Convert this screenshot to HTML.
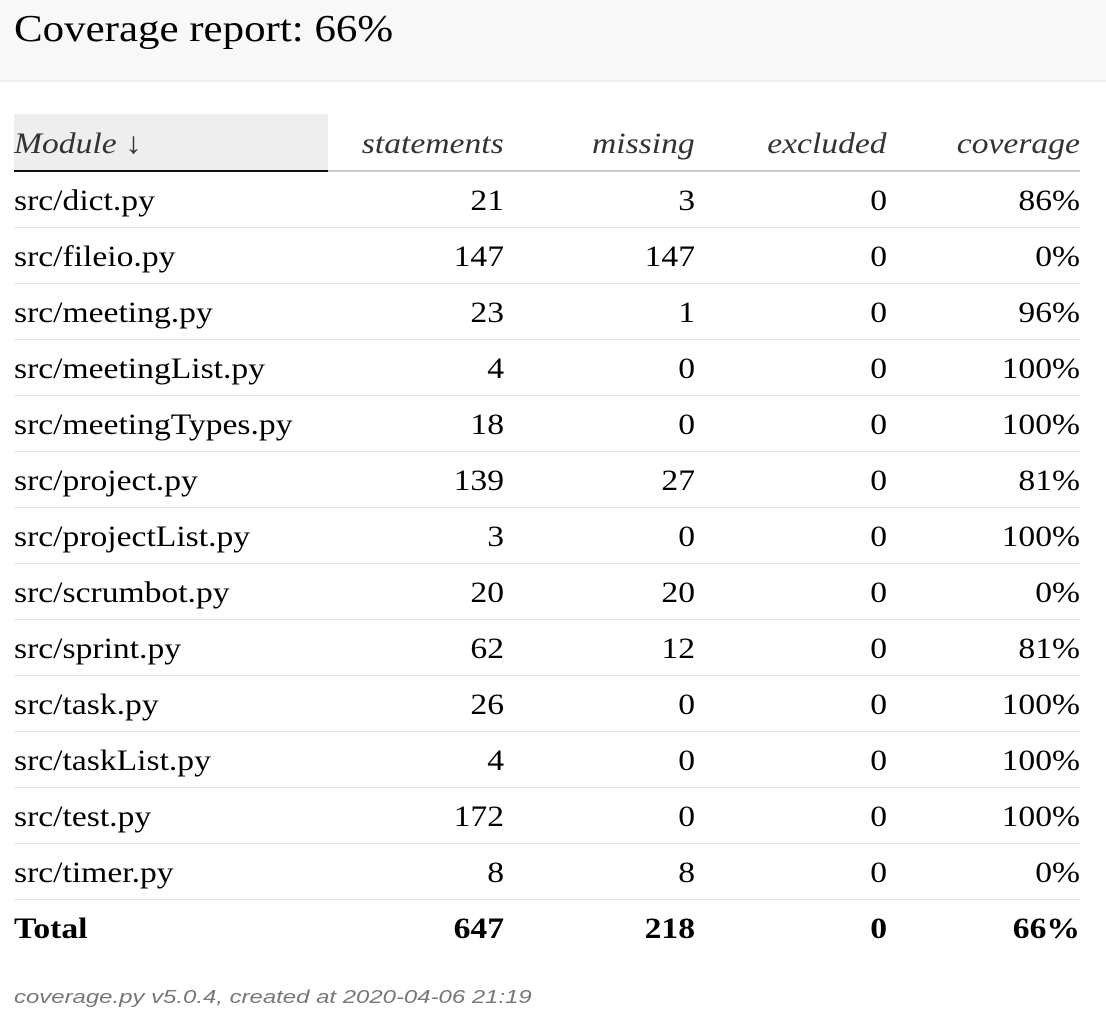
<!DOCTYPE html>
<html><head><meta charset="utf-8"><style>
body{margin:0;width:1106px;height:1028px;background:#fff;position:relative;overflow:hidden;font-family:"Liberation Serif",serif;color:#000}
#hdr{position:absolute;left:0;top:0;width:1106px;height:80px;background:#f8f8f8;border-bottom:2px solid #eee}
#title{position:absolute;left:14px;top:7px;font-size:38px;line-height:44px;transform:scaleX(1.13);transform-origin:left center;white-space:nowrap}
.c{position:absolute;font-size:30px;line-height:56px;white-space:nowrap;transform:scaleX(1.12);transform-origin:left center;margin-top:2px}
.h{font-style:italic;color:#333}
.r{text-align:right;transform-origin:right center}
.line{position:absolute;left:14px;width:1066px;height:1px;background:#e4e4e4}
#foot{position:absolute;left:14px;top:987px;font-family:"Liberation Sans",sans-serif;font-style:italic;font-size:18px;color:#777;transform:scaleX(1.33);transform-origin:left center;white-space:nowrap}
</style></head><body>
<div id="hdr"><div id="title">Coverage report: 66%</div></div>
<div style="position:absolute;left:14px;top:114px;width:314px;height:56px;background:#eee"></div>
<div style="position:absolute;left:14px;top:170px;width:1066px;height:2px;background:#ccc"></div>
<div style="position:absolute;left:14px;top:170px;width:314px;height:2px;background:#111"></div>
<div id="tbl"></div>
<div id="foot">coverage.py v5.0.4, created at 2020-04-06 21:19</div>
<script>
const modules=["src/dict.py","src/fileio.py","src/meeting.py","src/meetingList.py","src/meetingTypes.py","src/project.py","src/projectList.py","src/scrumbot.py","src/sprint.py","src/task.py","src/taskList.py","src/test.py","src/timer.py"];
const statements=[21,147,23,4,18,139,3,20,62,26,4,172,8];
const missing=[3,147,1,0,0,27,0,20,12,0,0,0,8];
const excluded=[0,0,0,0,0,0,0,0,0,0,0,0,0];
const coverage=["86%","0%","96%","100%","100%","81%","100%","0%","81%","100%","100%","100%","0%"];
const totals=["Total","647","218","0","66%"];
const headers=["Module ↓","statements","missing","excluded","coverage"];
const t=document.getElementById('tbl');
const rights=[null,504,695,887,1080];
function cell(txt,col,top,cls,name){
  const d=document.createElement('div');
  
  
  d.className='c '+cls;
  d.textContent=txt;
  d.style.top=top+'px';
  if(col===0){d.style.left='14px';}
  else{d.style.right=(1106-rights[col])+'px';}
  t.appendChild(d);
}
headers.forEach((h,i)=>cell(h,i,114,'h'+(i?' r':''),'header-'+h.split(' ')[0]));
modules.forEach((m,i)=>{
  const top=171+i*56;
  const vals=[m,statements[i],missing[i],excluded[i],coverage[i]];
  vals.forEach((v,j)=>cell(String(v),j,top,j?'r':'','row-cell'));
  const l=document.createElement('div');
  
  
  l.className='line';l.style.top=(top+56)+'px';t.appendChild(l);
});
const tt=171+modules.length*56;
totals.forEach((v,j)=>{cell(v,j,tt,j?'r':'','total-cell');});
Array.from(t.children).slice(-5).forEach(e=>e.style.fontWeight='bold');
</script>
</body></html>
